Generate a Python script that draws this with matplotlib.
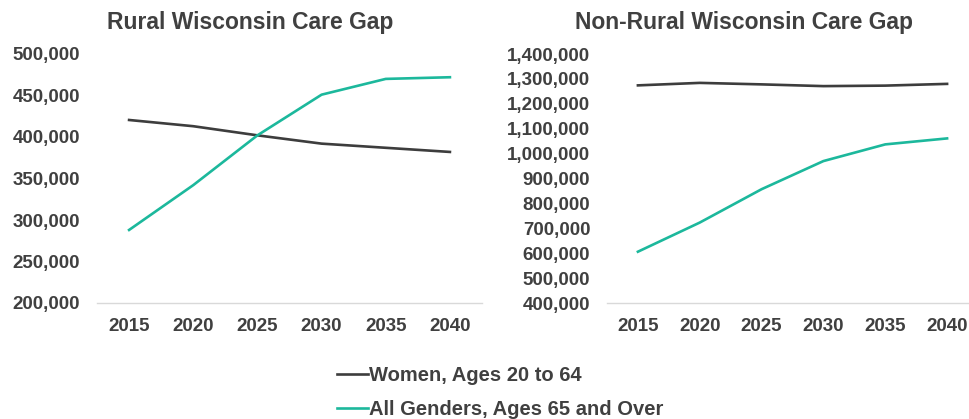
import matplotlib.pyplot as plt
import numpy as np
from matplotlib.ticker import FuncFormatter

years = ['2015', '2020', '2025', '2030', '2035', '2040']

rural_women = [420500, 413000, 402000, 392000, 387000, 382000]
rural_seniors = [288000, 342000, 402000, 451000, 470000, 472000]

nonrural_women = [1274000, 1284000, 1278000, 1271000, 1273000, 1280000]
nonrural_seniors = [606000, 723000, 857000, 970000, 1037000, 1061000]

labels = ['Women, Ages 20 to 64', 'All Genders, Ages 65 and Over']

dark = '#3d3d3d'
teal = '#1cb89c'
text_c = '#404040'

plt.rcParams['font.family'] = ['Liberation Sans', 'DejaVu Sans']
plt.rcParams['font.weight'] = 'bold'

fig = plt.figure(figsize=(9.69, 4.19), dpi=100)
W, H = 969, 419

def panel(x0, x1, women, seniors, ylo, yhi, step):
  ax = fig.add_axes([x0 / W, (H - 303) / H, (x1 - x0) / W, (303 - 54) / H])
  x = np.arange(len(years))
  l1, = ax.plot(x, women, color=dark, lw=1.9)
  l2, = ax.plot(x, seniors, color=teal, lw=1.9)
  ax.set_xlim(-0.5, len(years) - 0.5)
  ax.set_ylim(ylo, yhi)
  ax.set_yticks(np.arange(ylo, yhi + 1, step))
  ax.yaxis.set_major_formatter(FuncFormatter(lambda v, p: f'{int(v):,}'))
  ax.set_xticks(x)
  ax.set_xticklabels(years)
  for s in ['top', 'right', 'left']:
    ax.spines[s].set_visible(False)
  ax.spines['bottom'].set_color('#d9d9d9')
  ax.spines['bottom'].set_linewidth(1.0)
  ax.tick_params(axis='both', length=0, labelsize=13.5, labelcolor=text_c)
  ax.tick_params(axis='y', pad=12)
  ax.tick_params(axis='x', pad=11)
  for t in ax.get_xticklabels() + ax.get_yticklabels():
    t.set_fontweight('bold')
  return l1, l2

l1, l2 = panel(97, 482, rural_women, rural_seniors, 200000, 500000, 50000)
panel(607, 978, nonrural_women, nonrural_seniors, 400000, 1400000, 100000)

fig.text(250 / W, 1 - 22 / H, 'Rural Wisconsin Care Gap', ha='center', va='center',
         fontsize=16.5, fontweight='bold', color=text_c)
fig.text(744 / W, 1 - 22 / H, 'Non-Rural Wisconsin Care Gap', ha='center', va='center',
         fontsize=16.5, fontweight='bold', color=text_c)

leg = fig.legend([l1, l2], labels, loc='upper left', bbox_to_anchor=(337 / W, 1 - 366 / H),
                 frameon=False, fontsize=14.5, handlelength=1.55, handletextpad=0.05,
                 borderpad=0, borderaxespad=0, labelspacing=0.75)
for t in leg.get_texts():
  t.set_color(text_c)
  t.set_fontweight('bold')

fig.savefig('out.png', dpi=100, facecolor='white')
